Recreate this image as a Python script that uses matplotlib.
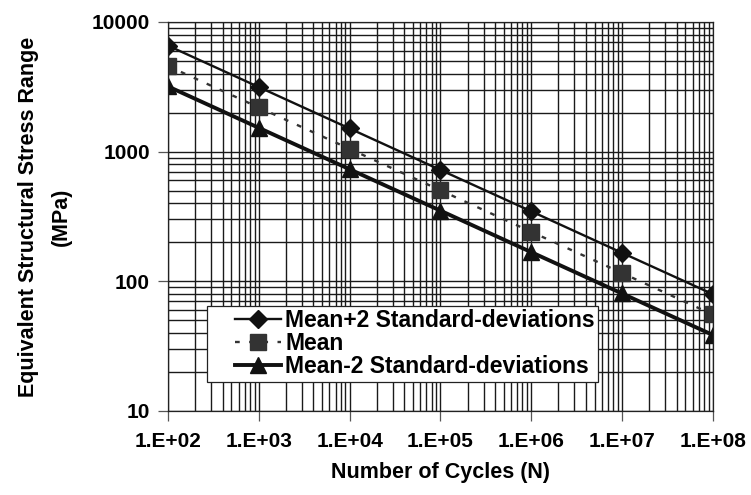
import matplotlib.pyplot as plt
import matplotlib.ticker as ticker
from matplotlib.legend_handler import HandlerLine2D
import numpy as np

cycles = [1e2, 1e3, 1e4, 1e5, 1e6, 1e7, 1e8]
plus2sd = [6569, 3149, 1509, 723, 347, 166, 79.7]
mean = [4573, 2192, 1051, 504, 241, 116, 55.5]
minus2sd = [3184, 1526, 732, 351, 168, 80.6, 38.6]

xticklabels = ['1.E+02', '1.E+03', '1.E+04', '1.E+05', '1.E+06', '1.E+07', '1.E+08']
yticks = [10, 100, 1000, 10000]

plt.rcParams['font.family'] = ['Liberation Sans', 'DejaVu Sans']
plt.rcParams['font.weight'] = 'bold'

fig = plt.figure(figsize=(7.51, 4.95), dpi=100)
ax = fig.add_axes([0.2237, 0.1697, 0.7253, 0.7859])

l1, = ax.plot(cycles, plus2sd, color='#111111', lw=1.7, marker='D', ms=9, label='Mean+2 Standard-deviations')
l2, = ax.plot(cycles, mean, color='#333333', lw=1.7, ls=(0, (2, 4)), marker='s', ms=12, label='Mean')
l3, = ax.plot(cycles, minus2sd, color='#111111', lw=2.8, marker='^', ms=12, label='Mean-2 Standard-deviations')

ax.set_xscale('log')
ax.set_yscale('log')
ax.set_xlim(1e2, 1e8)
ax.set_ylim(10, 10000)

ax.xaxis.set_major_locator(ticker.FixedLocator(cycles))
ax.xaxis.set_major_formatter(ticker.FixedFormatter(xticklabels))
ax.yaxis.set_major_locator(ticker.FixedLocator(yticks))
ax.yaxis.set_major_formatter(ticker.FixedFormatter([str(v) for v in yticks]))
ax.xaxis.set_minor_locator(ticker.LogLocator(base=10, subs=np.arange(2, 10)))
ax.yaxis.set_minor_locator(ticker.LogLocator(base=10, subs=np.arange(2, 10)))
ax.xaxis.set_minor_formatter(ticker.NullFormatter())
ax.yaxis.set_minor_formatter(ticker.NullFormatter())

ax.grid(True, which='both', color='#1a1a1a', lw=1.0)
ax.set_axisbelow(True)
ax.tick_params(which='major', length=7, width=0.9, color='#555555', labelsize=15, pad=8)
ax.tick_params(axis='y', pad=6)
ax.tick_params(which='minor', length=0)
for s in ax.spines.values():
    s.set_color('#222222')
    s.set_linewidth(0.9)

ax.set_xlabel('Number of Cycles (N)', fontsize=15.5, fontweight='bold', labelpad=8)
ax.set_ylabel('Equivalent Structural Stress Range\n(MPa)', fontsize=15.5, fontweight='bold',
              labelpad=14, linespacing=1.75)

hm = {l: HandlerLine2D(xpad=1.05) for l in (l1, l2, l3)}
leg = ax.legend(loc='lower left', bbox_to_anchor=(0.072, 0.075), fontsize=16.5, frameon=True,
                fancybox=False, edgecolor='#222222', framealpha=1, borderpad=0.15,
                labelspacing=0.0, handlelength=3.05, handletextpad=0.2, borderaxespad=0,
                handler_map=hm)
leg.get_frame().set_linewidth(0.9)

fig.savefig('out.png', dpi=100)
